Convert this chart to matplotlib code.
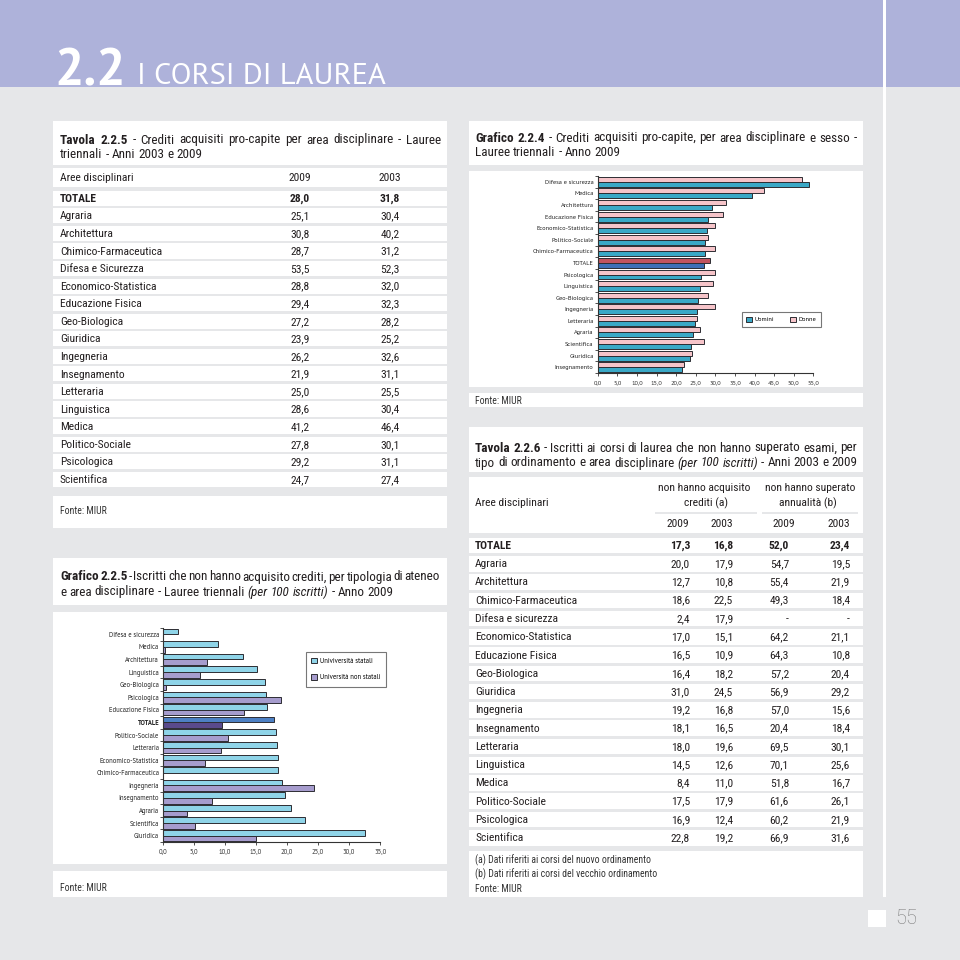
import matplotlib
matplotlib.use('Agg')
import matplotlib.pyplot as plt
from matplotlib.patches import Rectangle, Patch
from matplotlib.font_manager import FontProperties
from matplotlib import font_manager as fm
from collections import defaultdict
import numpy as np

# ---------------- data ----------------
t225_areas = ['TOTALE', 'Agraria', 'Architettura', 'Chimico-Farmaceutica', 'Difesa e Sicurezza',
              'Economico-Statistica', 'Educazione Fisica', 'Geo-Biologica', 'Giuridica', 'Ingegneria',
              'Insegnamento', 'Letteraria', 'Linguistica', 'Medica', 'Politico-Sociale',
              'Psicologica', 'Scientifica']
t225_2009 = [28.0, 25.1, 30.8, 28.7, 53.5, 28.8, 29.4, 27.2, 23.9, 26.2, 21.9, 25.0, 28.6, 41.2, 27.8, 29.2, 24.7]
t225_2003 = [31.8, 30.4, 40.2, 31.2, 52.3, 32.0, 32.3, 28.2, 25.2, 32.6, 31.1, 25.5, 30.4, 46.4, 30.1, 31.1, 27.4]

t226_areas = ['TOTALE', 'Agraria', 'Architettura', 'Chimico-Farmaceutica', 'Difesa e sicurezza',
              'Economico-Statistica', 'Educazione Fisica', 'Geo-Biologica', 'Giuridica', 'Ingegneria',
              'Insegnamento', 'Letteraria', 'Linguistica', 'Medica', 'Politico-Sociale',
              'Psicologica', 'Scientifica']
t226_cred_2009 = [17.3, 20.0, 12.7, 18.6, 2.4, 17.0, 16.5, 16.4, 31.0, 19.2, 18.1, 18.0, 14.5, 8.4, 17.5, 16.9, 22.8]
t226_cred_2003 = [16.8, 17.9, 10.8, 22.5, 17.9, 15.1, 10.9, 18.2, 24.5, 16.8, 16.5, 19.6, 12.6, 11.0, 17.9, 12.4, 19.2]
t226_ann_2009 = [52.0, 54.7, 55.4, 49.3, None, 64.2, 64.3, 57.2, 56.9, 57.0, 20.4, 69.5, 70.1, 51.8, 61.6, 60.2, 66.9]
t226_ann_2003 = [23.4, 19.5, 21.9, 18.4, None, 21.1, 10.8, 20.4, 29.2, 15.6, 18.4, 30.1, 25.6, 16.7, 26.1, 21.9, 31.6]

g224_cats = ['Difesa e sicurezza', 'Medica', 'Architettura', 'Educazione Fisica', 'Economico-Statistica',
             'Politico-Sociale', 'Chimico-Farmaceutica', 'TOTALE', 'Psicologica', 'Linguistica',
             'Geo-Biologica', 'Ingegneria', 'Letteraria', 'Agraria', 'Scientifica', 'Giuridica', 'Insegnamento']
g224_uomini = [54.0, 39.3, 29.1, 28.1, 28.0, 27.4, 27.3, 27.1, 26.3, 26.2, 25.6, 25.4, 24.7, 24.4, 23.8, 23.6, 21.4]
g224_donne = [52.2, 42.4, 32.7, 32.0, 29.8, 28.2, 29.8, 28.7, 30.0, 29.3, 28.2, 29.8, 25.3, 26.0, 27.0, 24.1, 21.9]
g224_ticks = [0, 5, 10, 15, 20, 25, 30, 35, 40, 45, 50, 55]
g224_ticklabels = ['0,0', '5,0', '10,0', '15,0', '20,0', '25,0', '30,0', '35,0', '40,0', '45,0', '50,0', '55,0']

g225_cats = ['Difesa e sicurezza', 'Medica', 'Architettura', 'Linguistica', 'Geo-Biologica', 'Psicologica',
             'Educazione Fisica', 'TOTALE', 'Politico-Sociale', 'Letteraria', 'Economico-Statistica',
             'Chimico-Farmaceutica', 'Ingegneria', 'Insegnamento', 'Agraria', 'Scientifica', 'Giuridica']
g225_statali = [2.3, 8.8, 12.8, 15.1, 16.5, 16.6, 16.7, 17.9, 18.2, 18.4, 18.6, 18.6, 19.1, 19.7, 20.6, 22.9, 32.6]
g225_non_statali = [0.0, 0.3, 7.1, 6.0, 0.5, 19.0, 13.0, 9.5, 10.5, 9.4, 6.8, 0.0, 24.4, 7.9, 3.9, 5.2, 14.9]
g225_ticks = [0, 5, 10, 15, 20, 25, 30, 35]
g225_ticklabels = ['0,0', '5,0', '10,0', '15,0', '20,0', '25,0', '30,0', '35,0']


def fmt(v):
    return '-' if v is None else f'{v:.1f}'.replace('.', ',')


# ---------------- fonts ----------------
info = defaultdict(set)
for f in fm.fontManager.ttflist:
    try:
        wt = int(f.weight)
    except (TypeError, ValueError):
        wt = {'normal': 400, 'regular': 400, 'bold': 700}.get(str(f.weight).lower(), 0)
    info[f.name].add((f.style, wt))


def pick(prefs, needs, fallback):
    for need in needs:
        for p in prefs:
            if need <= info.get(p, set()):
                return [p, fallback]
    return [fallback]


NARROW = ['Liberation Sans Narrow', 'Archivo Narrow', 'Roboto Condensed', 'PT Sans Narrow',
          'IBM Plex Sans Condensed', 'Fira Sans Condensed', 'Encode Sans Condensed', 'Asap Condensed',
          'Barlow Semi Condensed', 'Sofia Sans Condensed', 'Pragati Narrow', 'Open Sans Condensed']
TFAM = pick(NARROW, [{('normal', 400), ('normal', 700), ('italic', 400)}, {('normal', 400), ('normal', 700)}],
            'Liberation Sans')
CFAM = pick(['Source Sans Pro', 'PT Sans', 'Noto Sans', 'Open Sans'],
            [{('normal', 400), ('normal', 700)}], 'DejaVu Sans')
HFAM = pick(['Source Sans Pro', 'PT Sans', 'Open Sans'], [{('normal', 400), ('normal', 700)}], 'DejaVu Sans')

W = H = 960
BG = '#e6e7e9'
LAV = '#aeb2da'
TXT = '#231f20'

fig = plt.figure(figsize=(9.6, 9.6), dpi=100)
fig.patch.set_facecolor(BG)
page = fig.add_axes([0, 0, 1, 1])
page.set_xlim(0, W)
page.set_ylim(H, 0)
page.axis('off')
renderer = fig.canvas.get_renderer()


def box(x0, y0, x1, y1, color='white', z=1):
    page.add_patch(Rectangle((x0, y0), x1 - x0, y1 - y0, facecolor=color, edgecolor='none', zorder=z))


def twidth(s, prop):
    t = page.text(0, 0, s, fontproperties=prop)
    w = t.get_window_extent(renderer).width
    t.remove()
    return w


def fit(s, fam, target, weight='normal'):
    w = twidth(s, FontProperties(family=fam, size=10, weight=weight))
    return 10 * target / w


TSZ = fit('triennali - Anni 2003 e 2009', TFAM, 141)
CSZ = fit('Chimico-Farmaceutica', TFAM, 101)
FSZ = fit('(a) Dati riferiti ai corsi del nuovo ordinamento', TFAM, 175)
G4SZ = fit('Difesa e sicurezza', CFAM, 49)
G5SZ = fit('Difesa e sicurezza', CFAM, 51)


def fp(size, weight='normal', style='normal', fam=None):
    return FontProperties(family=fam or TFAM, size=size, weight=weight, style=style)


def rich_line(segments, x0, y, x1=None, color=TXT):
    words = []
    for text, prop in segments:
        for w in text.split():
            words.append((w, prop))
    widths = [twidth(w, p) for w, p in words]
    if x1 is not None and len(words) > 1:
        gap = (x1 - x0 - sum(widths)) / (len(words) - 1)
    else:
        gap = None
    x = x0
    for (w, p), wd in zip(words, widths):
        page.text(x, y, w, fontproperties=p, color=color, va='center', ha='left', zorder=5)
        sp = gap if gap is not None else (twidth('a a', p) - twidth('aa', p))
        x += wd + sp


# ---------------- page background ----------------
box(0, 0, W, 87, LAV, z=0)
box(883, 0, 886, 897, 'white', z=2)
box(868, 910, 886, 927, 'white', z=2)
s22 = fit('2.2', HFAM, 73, 'bold')
page.text(54, 85, '2.2', color='white', fontproperties=FontProperties(family=HFAM, size=s22, weight='bold'),
          va='baseline', ha='left', zorder=5)
scor = fit('I CORSI DI LAUREA', HFAM, 248)
page.text(137, 84, 'I CORSI DI LAUREA', color='white', fontproperties=FontProperties(family=HFAM, size=scor),
          va='baseline', ha='left', zorder=5)
page.text(895, 918, '55', color='#7d7d7d', fontsize=14.5, fontfamily=['Roboto', 'DejaVu Sans'],
          fontweight='light', va='center', ha='left', zorder=5)

# white panels
LX0, LX1 = 53, 447
RX0, RX1 = 469, 863
box(LX0, 121, LX1, 165)
box(LX0, 168, LX1, 187)
box(LX0, 496, LX1, 528)
box(LX0, 558, LX1, 605)
box(LX0, 612, LX1, 864)
box(LX0, 871, LX1, 897)
box(RX0, 121, RX1, 165)
box(RX0, 171, RX1, 387)
box(RX0, 393, RX1, 407)
box(RX0, 427, RX1, 472)
box(RX0, 477, RX1, 533)
box(RX0, 851, RX1, 897)

# ---------------- titles ----------------
rich_line([('Tavola 2.2.5', fp(TSZ, 'bold')),
           ('- Crediti acquisiti pro-capite per area disciplinare - Lauree', fp(TSZ))], 60, 140, 441)
rich_line([('triennali - Anni 2003 e 2009', fp(TSZ))], 60, 155)
rich_line([('Grafico 2.2.5', fp(TSZ, 'bold')),
           ('- Iscritti che non hanno acquisito crediti, per tipologia di ateneo', fp(TSZ))], 60, 577, 440)
rich_line([('e area disciplinare - Lauree triennali', fp(TSZ)), ('(per 100 iscritti)', fp(TSZ, style='italic')),
           ('- Anno 2009', fp(TSZ))], 60, 592)
rich_line([('Grafico 2.2.4', fp(TSZ, 'bold')),
           ('- Crediti acquisiti pro-capite, per area disciplinare e sesso -', fp(TSZ))], 475, 138, 857)
rich_line([('Lauree triennali - Anno 2009', fp(TSZ))], 475, 152)
rich_line([('Tavola 2.2.6', fp(TSZ, 'bold')),
           ('- Iscritti ai corsi di laurea che non hanno superato esami, per', fp(TSZ))], 475, 448, 857)
rich_line([('tipo di ordinamento e area disciplinare', fp(TSZ)), ('(per 100 iscritti)', fp(TSZ, style='italic')),
           ('- Anni 2003 e 2009', fp(TSZ))], 475, 463)

# ---------------- Tavola 2.2.5 ----------------
page.text(60, 178, 'Aree disciplinari', fontproperties=fp(CSZ), color=TXT, va='center', zorder=5)
page.text(300, 178, '2009', fontproperties=fp(CSZ), color=TXT, va='center', ha='center', zorder=5)
page.text(390, 178, '2003', fontproperties=fp(CSZ), color=TXT, va='center', ha='center', zorder=5)
for i, (a, v9, v3) in enumerate(zip(t225_areas, t225_2009, t225_2003)):
    top = 190.7 + i * 17.56
    box(LX0, top, LX1, top + 15.2)
    w = 'bold' if a == 'TOTALE' else 'normal'
    yc = top + 8.2
    page.text(60, yc, a, fontproperties=fp(CSZ, w), color=TXT, va='center', zorder=5)
    page.text(300, yc, fmt(v9), fontproperties=fp(CSZ, w), color=TXT, va='center', ha='center', zorder=5)
    page.text(390, yc, fmt(v3), fontproperties=fp(CSZ, w), color=TXT, va='center', ha='center', zorder=5)
page.text(60, 511, 'Fonte: MIUR', fontproperties=fp(FSZ), color='#333333', va='center', zorder=5)
page.text(60, 888, 'Fonte: MIUR', fontproperties=fp(FSZ), color='#333333', va='center', zorder=5)
page.text(475, 400.5, 'Fonte: MIUR', fontproperties=fp(FSZ), color='#333333', va='center', zorder=5)

# ---------------- Tavola 2.2.6 ----------------
page.text(475, 503, 'Aree disciplinari', fontproperties=fp(CSZ), color=TXT, va='center', zorder=5)
page.text(704, 488, 'non hanno acquisito', fontproperties=fp(CSZ), color=TXT, va='center', ha='center', zorder=5)
page.text(706, 503, 'crediti (a)', fontproperties=fp(CSZ), color=TXT, va='center', ha='center', zorder=5)
page.text(810, 488, 'non hanno superato', fontproperties=fp(CSZ), color=TXT, va='center', ha='center', zorder=5)
page.text(808, 503, 'annualità (b)', fontproperties=fp(CSZ), color=TXT, va='center', ha='center', zorder=5)
box(655, 512, 757, 514, BG, z=3)
box(762, 512, 858, 514, BG, z=3)
for xr, lab in zip([689, 733, 795, 850], ['2009', '2003', '2009', '2003']):
    page.text(xr, 524, lab, fontproperties=fp(CSZ), color=TXT, va='center', ha='right', zorder=5)
for i, a in enumerate(t226_areas):
    top = 537.7 + i * 18.27
    box(RX0, top, RX1, top + 15.6)
    w = 'bold' if a == 'TOTALE' else 'normal'
    yc = top + 8.2
    page.text(475, yc, a, fontproperties=fp(CSZ, w), color=TXT, va='center', zorder=5)
    vals = [t226_cred_2009[i], t226_cred_2003[i], t226_ann_2009[i], t226_ann_2003[i]]
    for xr, v in zip([690, 733, 789, 850], vals):
        page.text(xr, yc, fmt(v), fontproperties=fp(CSZ, w), color=TXT, va='center', ha='right', zorder=5)
page.text(475, 860, '(a) Dati riferiti ai corsi del nuovo ordinamento', fontproperties=fp(FSZ), color='#333333',
          va='center', zorder=5)
page.text(475, 874, '(b) Dati riferiti ai corsi del vecchio ordinamento', fontproperties=fp(FSZ), color='#333333',
          va='center', zorder=5)
page.text(475, 889, 'Fonte: MIUR', fontproperties=fp(FSZ), color='#333333', va='center', zorder=5)

EDGE = '#2d2d33'


def style_axes(ax, n):
    for s in ['top', 'right']:
        ax.spines[s].set_visible(False)
    for s in ['left', 'bottom']:
        ax.spines[s].set_color('#333333')
        ax.spines[s].set_linewidth(0.8)
    ax.set_yticks(np.arange(-0.5, n, 1.0), minor=True)
    ax.tick_params(axis='y', which='major', length=0, pad=3)
    ax.tick_params(axis='y', which='minor', length=2.5, color='#333333', width=0.6)
    ax.tick_params(axis='x', length=2.5, color='#333333', width=0.6, pad=2.5)
    ax.set_facecolor('none')


# ---------------- Grafico 2.2.4 ----------------
CF4 = FontProperties(family=CFAM, size=G4SZ)
n4 = len(g224_cats)
ax1 = fig.add_axes([597.7 / W, 1 - 373 / H, (813.3 - 597.7) / W, (373 - 176) / H])
y4 = np.arange(n4)
h4 = 0.43
col_d = ['#c2535e' if c == 'TOTALE' else '#f6c4c9' for c in g224_cats]
col_u = ['#3e6fb6' if c == 'TOTALE' else '#3aa8c6' for c in g224_cats]
ax1.barh(y4 - h4 / 2, g224_donne, height=h4, color=col_d, edgecolor=EDGE, linewidth=0.7)
ax1.barh(y4 + h4 / 2, g224_uomini, height=h4, color=col_u, edgecolor=EDGE, linewidth=0.7)
ax1.set_ylim(n4 - 0.5, -0.5)
ax1.set_xlim(0, 55)
ax1.set_xticks(g224_ticks)
ax1.set_xticklabels(g224_ticklabels, fontproperties=CF4, color='#333333')
ax1.set_yticks(y4)
ax1.set_yticklabels(g224_cats, fontproperties=CF4, color='#222222')
style_axes(ax1, n4)
leg1 = ax1.legend([Patch(facecolor='#3aa8c6', edgecolor=EDGE, lw=0.7), Patch(facecolor='#f6c4c9', edgecolor=EDGE, lw=0.7)],
                  ['Uomini', 'Donne'], ncol=2, loc='center', bbox_to_anchor=(781.5 / W, 1 - 319.5 / H),
                  bbox_transform=fig.transFigure, prop=CF4, frameon=True, fancybox=False,
                  handlelength=0.9, handleheight=0.9, handletextpad=0.4, columnspacing=2.5, borderpad=0.7)
leg1.get_frame().set_edgecolor('#555555')
leg1.get_frame().set_linewidth(0.8)

# ---------------- Grafico 2.2.5 ----------------
CF5 = FontProperties(family=CFAM, size=G5SZ)
n5 = len(g225_cats)
ax2 = fig.add_axes([163.3 / W, 1 - 842 / H, (380 - 163.3) / W, (842 - 628) / H])
y5 = np.arange(n5)
h5 = 0.45
col_s = ['#4d80c4' if c == 'TOTALE' else '#8fd4e8' for c in g225_cats]
col_n = ['#5a4a8c' if c == 'TOTALE' else '#a69ccd' for c in g225_cats]
ax2.barh(y5 - h5 / 2, g225_statali, height=h5, color=col_s, edgecolor=EDGE, linewidth=0.7)
ax2.barh(y5 + h5 / 2, g225_non_statali, height=h5, color=col_n, edgecolor=EDGE, linewidth=0.7)
ax2.set_ylim(n5 - 0.5, -0.5)
ax2.set_xlim(0, 35)
ax2.set_xticks(g225_ticks)
ax2.set_xticklabels(g225_ticklabels, fontproperties=CF5, color='#333333')
ax2.set_yticks(y5)
ax2.set_yticklabels(g225_cats, fontproperties=CF5, color='#222222')
for lab in ax2.get_yticklabels():
    if lab.get_text() == 'TOTALE':
        lab.set_fontweight('bold')
style_axes(ax2, n5)
leg2 = ax2.legend([Patch(facecolor='#8fd4e8', edgecolor=EDGE, lw=0.7), Patch(facecolor='#a69ccd', edgecolor=EDGE, lw=0.7)],
                  ['Univiversità statali', 'Università non statali'], ncol=1, loc='center',
                  bbox_to_anchor=(346 / W, 1 - 669.5 / H), bbox_transform=fig.transFigure,
                  prop=CF5, frameon=True, fancybox=False,
                  handlelength=0.9, handleheight=0.9, handletextpad=0.4, labelspacing=1.4, borderpad=0.8)
leg2.get_frame().set_edgecolor('#555555')
leg2.get_frame().set_linewidth(0.8)

fig.savefig('out.png', dpi=100, facecolor=BG)
